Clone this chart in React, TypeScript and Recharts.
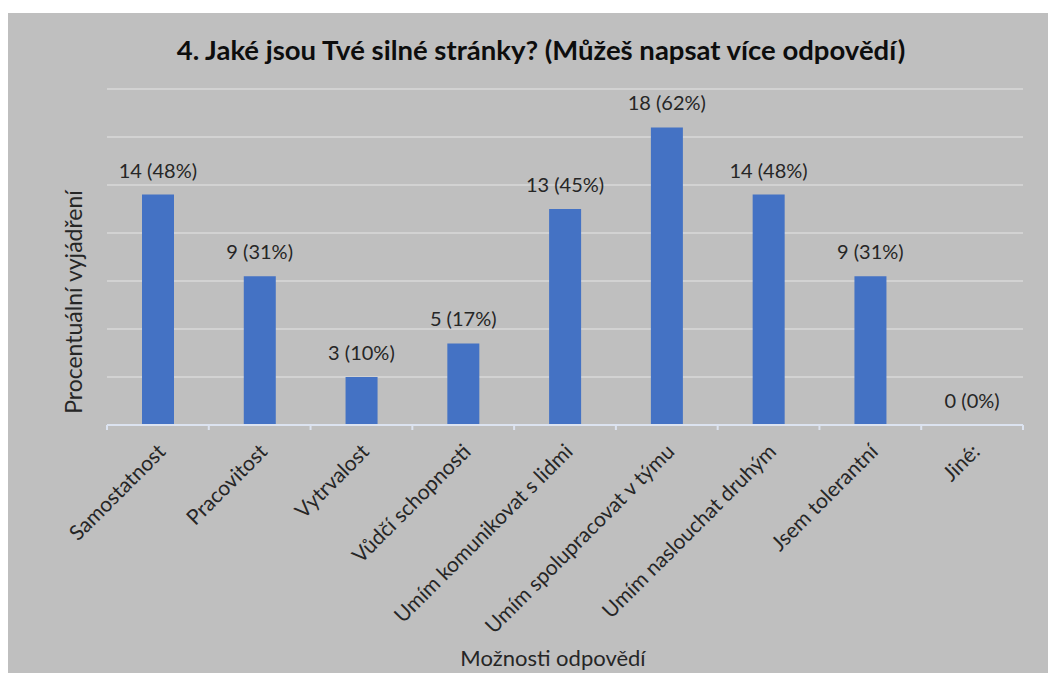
import { ComposedChart, Bar, Line, XAxis, YAxis, CartesianGrid, LabelList, Label } from "recharts"

const categories = [
    "Samostatnost",
    "Pracovitost",
    "Vytrvalost",
    "Vůdčí schopnosti",
    "Umím komunikovat s lidmi",
    "Umím spolupracovat v týmu",
    "Umím naslouchat druhým",
    "Jsem tolerantní",
    "Jiné:",
]
const counts = [14, 9, 3, 5, 13, 18, 14, 9, 0]
const percents = [48, 31, 10, 17, 45, 62, 48, 31, 0]
const yTicks = [0, 10, 20, 30, 40, 50, 60, 70]

const data = categories.map((name, i) => ({
    name,
    count: counts[i],
    pct: percents[i],
    label: `${counts[i]} (${percents[i]}%)`,
}))

const FONT = "Lato, 'Open Sans', sans-serif"
const TEXT = "#262626"

const AngledTick = (props: any) => {
    const { x, y, payload, index } = props
    const half = payload?.offset ?? 51
    return (
        <g>
            <line x1={x - half} y1={y - 8} x2={x - half} y2={y - 3} stroke="#dce3f0" strokeWidth={2} />
            {index === categories.length - 1 && (
                <line x1={x + half} y1={y - 8} x2={x + half} y2={y - 3} stroke="#dce3f0" strokeWidth={2} />
            )}
            <text
                x={x + 9}
                y={y + 20}
                transform={`rotate(-45, ${x + 9}, ${y + 20})`}
                textAnchor="end"
                fontSize={21}
                fontFamily={FONT}
                fill={TEXT}
            >
                {payload.value}
            </text>
        </g>
    )
}

const ValueLabel = (props: any) => {
    const { x, y, value } = props
    return (
        <text x={x} y={y - 17} textAnchor="middle" fontSize={20} fontFamily={FONT} fill={TEXT}>
            {value}
        </text>
    )
}

export default function App() {
    return (
        <div
            style={{
                position: "relative",
                width: 1042,
                height: 660,
                marginTop: 5,
                background: "#bfbfbf",
            }}
        >
            <div
                style={{
                    position: "absolute",
                    top: 20,
                    left: 0,
                    width: 1066,
                    textAlign: "center",
                    fontFamily: FONT,
                    fontWeight: 700,
                    fontSize: 27.5,
                    color: "#0d0d0d",
                }}
            >
                4. Jaké jsou Tvé silné stránky? (Můžeš napsat více odpovědí)
            </div>
            <ComposedChart
                width={1042}
                height={660}
                data={data}
                margin={{ top: 76, right: 27, left: 0, bottom: 0 }}
                style={{ position: "absolute", top: 0, left: 0 }}
            >
                <CartesianGrid vertical={false} stroke="#d9d9d9" strokeWidth={1.5} />
                <XAxis
                    dataKey="name"
                    interval={0}
                    height={248}
                    tickLine={false}
                    axisLine={{ stroke: "#dce3f0", strokeWidth: 2 }}
                    tick={<AngledTick />}
                >
                    <Label
                        content={({ viewBox }: any) => (
                            <text
                                x={viewBox.x + viewBox.width / 2 - 12}
                                y={viewBox.y + viewBox.height - 7}
                                textAnchor="middle"
                                fontSize={22}
                                fontFamily={FONT}
                                fill={TEXT}
                            >
                                Možnosti odpovědí
                            </text>
                        )}
                    />
                </XAxis>
                <YAxis
                    width={99}
                    domain={[0, 70]}
                    ticks={yTicks}
                    tick={() => <g />}
                    tickLine={false}
                    axisLine={false}
                >
                    <Label
                        content={({ viewBox }: any) => {
                            const cx = 65
                            const cy = viewBox.y + viewBox.height / 2 + 45
                            return (
                                <text
                                    x={cx}
                                    y={cy}
                                    transform={`rotate(-90, ${cx}, ${cy})`}
                                    textAnchor="middle"
                                    dominantBaseline="central"
                                    fontSize={23}
                                    fontFamily={FONT}
                                    fill={TEXT}
                                >
                                    Procentuální vyjádření
                                </text>
                            )
                        }}
                    />
                </YAxis>
                <Bar dataKey="pct" fill="#4472c4" barSize={32} isAnimationActive={false} />
                <Line
                    dataKey="pct"
                    stroke="none"
                    dot={false}
                    activeDot={false}
                    legendType="none"
                    isAnimationActive={false}
                >
                    <LabelList dataKey="label" content={<ValueLabel />} />
                </Line>
            </ComposedChart>
        </div>
    )
}
